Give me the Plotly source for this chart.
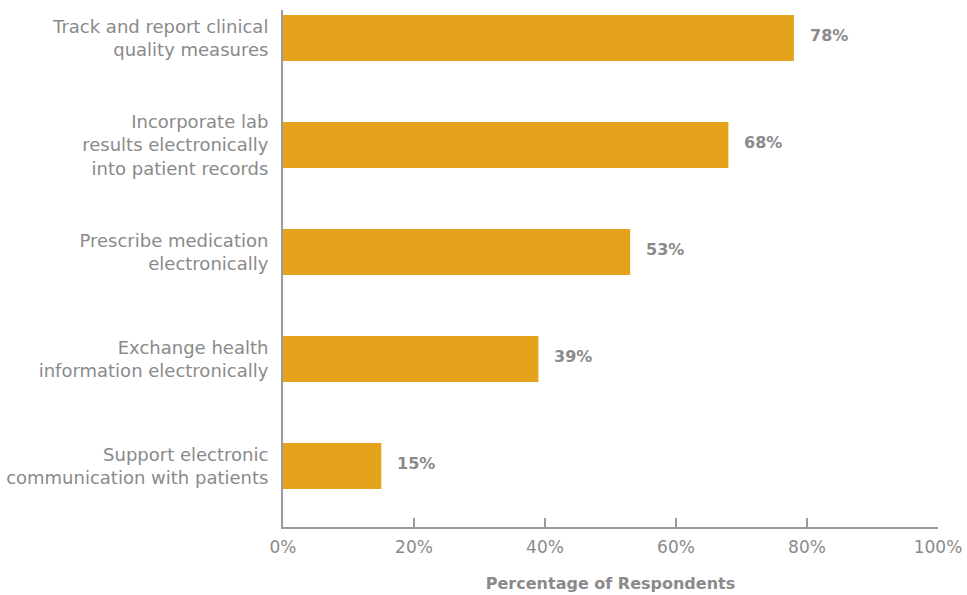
import plotly.graph_objects as go

# Survey results: share of respondents able to perform each EHR capability
categories = [
    "Track and report clinical<br>quality measures",
    "Incorporate lab<br>results electronically<br>into patient records",
    "Prescribe medication<br>electronically",
    "Exchange health<br>information electronically",
    "Support electronic<br>communication with patients",
]
values = [78, 68, 53, 39, 15]
x_ticks = [0, 20, 40, 60, 80, 100]
x_tick_labels = ["0%", "20%", "40%", "60%", "80%", "100%"]

BAR = "#E5A31B"
GREY = "#8a8a8a"
AXIS = "#9a9a9a"
FONT = "DejaVu Sans, sans-serif"

fig = go.Figure(
    go.Bar(
        x=values,
        y=categories,
        orientation="h",
        marker=dict(color=BAR, line=dict(width=0)),
        width=0.43,
        hoverinfo="skip",
    )
)

# value labels beside each bar
for cat, val in zip(categories, values):
    fig.add_annotation(
        x=val, y=cat, text=f"<b>{val}%</b>", showarrow=False,
        xanchor="left", yanchor="middle", xshift=14, yshift=3,
        font=dict(family=FONT, size=16, color=GREY),
    )

fig.update_layout(
    width=967, height=595,
    margin=dict(l=283, r=29, t=10, b=68),
    paper_bgcolor="white", plot_bgcolor="white",
    showlegend=False,
    font=dict(family=FONT, color=GREY),
)

fig.update_xaxes(
    range=[0, 100],
    tickvals=x_ticks, ticktext=x_tick_labels,
    ticks="inside", ticklen=9, tickcolor=AXIS, tickwidth=1.5,
    showline=True, linecolor=AXIS, linewidth=2,
    showgrid=False, zeroline=False,
    automargin=False, ticklabeloverflow="allow",
    ticklabelstandoff=4,
    tickfont=dict(family=FONT, size=17, color=GREY),
    title=dict(text="<b>Percentage of Respondents</b>",
               font=dict(family=FONT, size=16, color=GREY), standoff=21),
    fixedrange=True,
)

fig.update_yaxes(
    type="category",
    categoryorder="array", categoryarray=categories,
    range=[4.57, -0.262],
    showline=True, linecolor=AXIS, linewidth=2,
    ticks="", showgrid=False, zeroline=False,
    automargin=False,
    ticklabelstandoff=9,
    tickfont=dict(family=FONT, size=18, color=GREY),
    fixedrange=True,
)

fig.write_html("out.html")
